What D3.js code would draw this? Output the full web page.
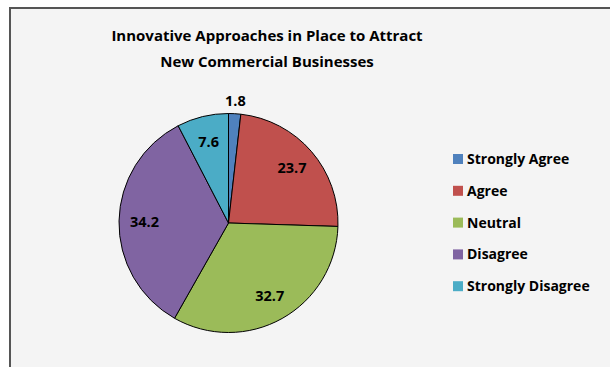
<!DOCTYPE html>
<html><head><meta charset="utf-8">
<script src="https://cdn.jsdelivr.net/npm/d3@7"></script>
<style>html,body{margin:0;padding:0;background:#fff;}svg{display:block;}</style>
</head><body>
<svg id="chart" width="610" height="367"></svg>
<script>
const titleLines = ["Innovative Approaches in Place to Attract", "New Commercial Businesses"];
const categories = ["Strongly Agree", "Agree", "Neutral", "Disagree", "Strongly Disagree"];
const values = [1.8, 23.7, 32.7, 34.2, 7.6];
const colors = ["#4F81BD", "#C0504D", "#9BBB59", "#8064A2", "#4BACC6"];

const svg = d3.select("#chart");
const font = "'Open Sans', sans-serif";

svg.append("rect").attr("x", 10).attr("y", 8).attr("width", 640).attr("height", 400)
  .attr("fill", "#f4f4f4").attr("stroke", "#555").attr("stroke-width", 2);

svg.append("g").selectAll("text").data(titleLines).join("text")
  .attr("x", 267).attr("y", (d, i) => 41 + i * 25.5)
  .attr("text-anchor", "middle").attr("font-family", font).attr("font-weight", "bold")
  .attr("font-size", 15).attr("fill", "#000").text(d => d);

const cx = 228.5, cy = 223, r = 109.5;
const data = categories.map((c, i) => ({ c, v: values[i], col: colors[i] }));
const pie = d3.pie().value(d => d.v).sort(null);
const arcs = pie(data);
const arc = d3.arc().innerRadius(0).outerRadius(r);
const total = d3.sum(values);

const g = svg.append("g").attr("transform", `translate(${cx},${cy})`);
g.selectAll("path").data(arcs).join("path")
  .attr("d", arc).attr("fill", d => d.data.col)
  .attr("stroke", "#000").attr("stroke-width", 1).attr("stroke-linejoin", "round");

g.selectAll("text").data(arcs).join("text")
  .attr("transform", d => {
    const inside = d.data.v / total > 0.05;
    const lr = inside ? 84 : r + 13;
    const a = (d.startAngle + d.endAngle) / 2;
    return `translate(${lr * Math.sin(a)},${-lr * Math.cos(a)})`;
  })
  .attr("text-anchor", "middle").attr("dy", "0.36em")
  .attr("font-family", font).attr("font-weight", "bold").attr("font-size", 14.5)
  .attr("fill", "#000").text(d => d.data.v.toFixed(1));

const leg = svg.append("g").attr("transform", "translate(453,159)");
const rows = leg.selectAll("g").data(data).join("g")
  .attr("transform", (d, i) => `translate(0,${i * 31.8})`);
rows.append("rect").attr("x", 0).attr("y", -5).attr("width", 10).attr("height", 10)
  .attr("fill", d => d.col);
rows.append("text").attr("x", 14).attr("dy", "0.36em")
  .attr("font-family", font).attr("font-weight", "bold").attr("font-size", 14)
  .attr("fill", "#000").text(d => d.c);
</script>
</body></html>
